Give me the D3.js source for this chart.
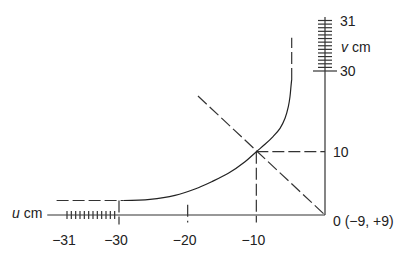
<!DOCTYPE html>
<meta charset="utf-8">
<html>
<head>
<script src="https://cdn.jsdelivr.net/npm/d3@7"></script>
<style>
body { margin: 0; background: #fff; }
text { font-family: "Liberation Sans", Arial, sans-serif; font-size: 14px; fill: #222; }
.axis { stroke: #333; stroke-width: 1.2; fill: none; }
.dash { stroke: #333; stroke-width: 1.2; stroke-dasharray: 12,4; fill: none; }
.curve { stroke: #222; stroke-width: 1.2; fill: none; }
</style>
</head>
<body>
<script>

// curve (u, v in cm)
var curveU = [-29.37, -25.48, -21.84, -18.93, -16.5, -14.08, -11.65, -10,
              -8.74, -7.53, -6.55, -5.82, -5.34, -5.1, -4.95, -4.86];
var curveV = [2.29, 2.48, 3.11, 4.11, 5.26, 6.59, 8.42, 10,
              11.83, 13.82, 15.8, 18.28, 21.15, 23.63, 26.28, 27.77];

// tick labels
var uTicks  = [-31, -30, -20, -10];
var uLabels = ["\u221231", "\u221230", "\u221220", "\u221210"];
var vTicks  = [31, 30, 10, 0];
var vLabels = ["31", "30", "10", "0 (\u22129, +9)"];

// fine divisions on the broken parts of the axes
var uFine = d3.range(12).map(function(k) { return -31 + k / 12; });
var vFine = d3.range(14).map(function(k) { return 31 - k / 14; });

// asymptotes and guide lines
var asymV = 2.29, asymU = -4.85;
var diagStart = [-18.5, 23.8];

var svg = d3.select("body").append("svg")
  .attr("width", 409)
  .attr("height", 254);

// broken axes -> polylinear scales
var x = d3.scaleLinear().domain([-31, -30, 0]).range([67, 119, 325]);
var y = d3.scaleLinear().domain([0, 10, 30, 31]).range([215, 151.7, 71, 20.5]);

// axes
svg.append("line").attr("class", "axis")
  .attr("x1", x(-31.38)).attr("x2", x(0))
  .attr("y1", y(0)).attr("y2", y(0));
svg.append("line").attr("class", "axis")
  .attr("x1", x(0)).attr("x2", x(0))
  .attr("y1", y(31.07)).attr("y2", y(0));

// hatch ticks
svg.selectAll(".uf").data(uFine).enter().append("line")
  .attr("class", "axis")
  .attr("x1", function(d) { return x(d); }).attr("x2", function(d) { return x(d); })
  .attr("y1", y(0) - 4).attr("y2", y(0) + 4);
svg.selectAll(".vf").data(vFine).enter().append("line")
  .attr("class", "axis")
  .attr("x1", x(0) - 7).attr("x2", x(0) + 7)
  .attr("y1", function(d) { return y(d); }).attr("y2", function(d) { return y(d); });
svg.append("line").attr("class", "axis")
  .attr("x1", x(0) - 12).attr("x2", x(0) + 12)
  .attr("y1", y(30)).attr("y2", y(30));

// dashed ticks at -30, -20
svg.append("line").attr("class", "dash")
  .attr("x1", x(-30)).attr("x2", x(-30))
  .attr("y1", y(asymV)).attr("y2", y(-1.5));
svg.append("line").attr("class", "dash")
  .attr("x1", x(-20)).attr("x2", x(-20))
  .attr("y1", y(1.6)).attr("y2", y(-1.2));

// guides through (-10, 10)
svg.append("line").attr("class", "dash")
  .attr("x1", x(-10)).attr("x2", x(-10))
  .attr("y1", y(10)).attr("y2", y(-1.2));
svg.append("line").attr("class", "dash")
  .attr("x1", x(-10)).attr("x2", x(0))
  .attr("y1", y(10)).attr("y2", y(10));
svg.append("line").attr("class", "dash")
  .attr("x1", x(diagStart[0])).attr("x2", x(0))
  .attr("y1", y(diagStart[1])).attr("y2", y(0));

// asymptotes
svg.append("line").attr("class", "dash")
  .attr("x1", x(-31.2)).attr("x2", x(curveU[0]))
  .attr("y1", y(asymV)).attr("y2", y(asymV));
svg.append("line").attr("class", "dash")
  .attr("x1", x(asymU)).attr("x2", x(asymU))
  .attr("y1", y(curveV[curveV.length - 1])).attr("y2", y(30.66));

// the curve
var pts = curveU.map(function(u, i) { return [u, curveV[i]]; });
svg.append("path").attr("class", "curve")
  .attr("d", d3.line()
    .x(function(d) { return x(d[0]); })
    .y(function(d) { return y(d[1]); })
    .curve(d3.curveCatmullRom.alpha(0.5))(pts));

// labels
svg.selectAll(".ul").data(uTicks).enter().append("text")
  .attr("x", function(d) { return x(d) - 3; })
  .attr("y", 245)
  .attr("text-anchor", "middle")
  .text(function(d, i) { return uLabels[i]; });

svg.selectAll(".vl").data(vTicks).enter().append("text")
  .attr("x", function(d) { return x(0) + (d >= 30 ? 15 : 8); })
  .attr("y", function(d) { return y(d) + (d == 0 ? 11 : 5); })
  .text(function(d, i) { return vLabels[i]; });

var uName = svg.append("text").attr("x", 12).attr("y", 218);
uName.append("tspan").style("font-style", "italic").text("u");
uName.append("tspan").text(" cm");

var vName = svg.append("text").attr("x", 341).attr("y", 52);
vName.append("tspan").style("font-style", "italic").text("v");
vName.append("tspan").text(" cm");

</script>
</body>
</html>
